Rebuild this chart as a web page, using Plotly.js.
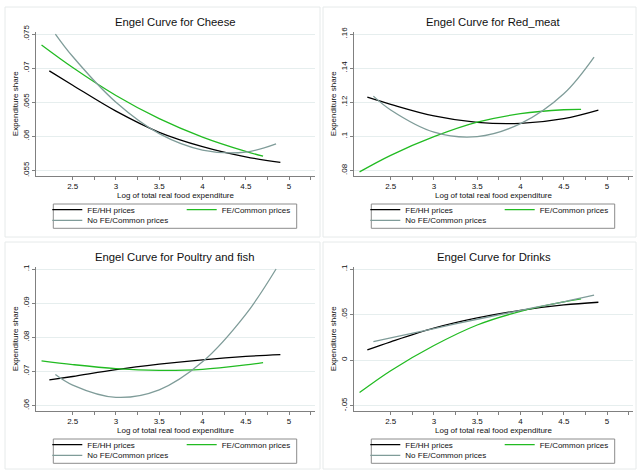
<!DOCTYPE html>
<html>
<head>
<meta charset="utf-8">
<script src="https://cdn.plot.ly/plotly-3.0.1.min.js"></script>
<style>html,body{margin:0;padding:0;background:#fff;}#chart{width:637px;height:470px;}</style>
</head>
<body>
<div id="chart"></div>
<script>
// ---------- data ----------
const seriesNames = ['FE/HH prices', 'FE/Common prices', 'No FE/Common prices'];
const panelTitles = ['Engel Curve for Cheese', 'Engel Curve for Red_meat',
                     'Engel Curve for Poultry and fish', 'Engel Curve for Drinks'];

const hhX     = [2.23, 2.5, 3, 3.5, 4, 4.5, 4.9];
const commonX = [2.14, 2.5, 3, 3.5, 4, 4.5, 4.7];
const noFeX   = [2.3, 2.5, 3, 3.5, 4, 4.5, 4.85];

const cheeseHH     = [0.0696, 0.0675, 0.0637, 0.0606, 0.0585, 0.0570, 0.0562];
const cheeseCommon = [0.0734, 0.0701, 0.0660, 0.0626, 0.0599, 0.0578, 0.0571];
const cheeseNoFe   = [0.0750, 0.0717, 0.0650, 0.0604, 0.0580, 0.0577, 0.0589];

const meatHH     = [0.1230, 0.1188, 0.1120, 0.1082, 0.1076, 0.1104, 0.1154];
const meatCommon = [0.0792, 0.0889, 0.0998, 0.1083, 0.1133, 0.1156, 0.1158];
const meatNoFe   = [0.1236, 0.1155, 0.1025, 0.0999, 0.1075, 0.1250, 0.1465];

const poultryHH     = [0.0675, 0.0685, 0.0705, 0.0721, 0.0734, 0.0744, 0.0749];
const poultryCommon = [0.0731, 0.0720, 0.0708, 0.0703, 0.0706, 0.0719, 0.0726];
const poultryNoFe   = [0.0691, 0.0660, 0.0624, 0.0646, 0.0728, 0.0867, 0.1000];

const drinksHH     = [0.0111, 0.0200, 0.0350, 0.0462, 0.0546, 0.0605, 0.0635];
const drinksCommon = [-0.0358, -0.0118, 0.0159, 0.0385, 0.0535, 0.0638, 0.0672];
const drinksNoFe   = [0.0203, 0.0243, 0.0345, 0.0448, 0.0546, 0.0640, 0.0712];

const xTickVals  = [2.5, 3, 3.5, 4, 4.5, 5];
const xTickText  = ['2.5', '3', '3.5', '4', '4.5', '5'];
const xMinorVals = [2.75, 3.25, 3.75, 4.25, 4.75, 5.25];

const cheeseTickVals = [0.055, 0.06, 0.065, 0.07, 0.075];
const cheeseTickText = ['.055', '.06', '.065', '.07', '.075'];
const meatTickVals   = [0.08, 0.1, 0.12, 0.14, 0.16];
const meatTickText   = ['.08', '.1', '.12', '.14', '.16'];
const poultryTickVals = [0.06, 0.07, 0.08, 0.09, 0.1];
const poultryTickText = ['.06', '.07', '.08', '.09', '.1'];
const drinksTickVals = [-0.05, 0, 0.05, 0.1];
const drinksTickText = ['-.05', '0', '.05', '.1'];

const xTitle = 'Log of total real food expenditure';
const yTitle = 'Expenditure share';

// ---------- layout helpers ----------
const W = 637, H = 470;
const px = v => v / W;
const py = v => 1 - v / H;
const colors = ['#000000', '#22bb22', '#7f9c99'];
const fontFam = '"Liberation Sans", Arial, Helvetica, sans-serif';
const axisCol = '#808080';
const gridCol = '#e6eeee';

const panels = [
  {ys: [cheeseHH, cheeseCommon, cheeseNoFe], tv: cheeseTickVals, tt: cheeseTickText, col: 0, row: 0},
  {ys: [meatHH, meatCommon, meatNoFe], tv: meatTickVals, tt: meatTickText, col: 1, row: 0},
  {ys: [poultryHH, poultryCommon, poultryNoFe], tv: poultryTickVals, tt: poultryTickText, col: 0, row: 1},
  {ys: [drinksHH, drinksCommon, drinksNoFe], tv: drinksTickVals, tt: drinksTickText, col: 1, row: 1}
];
const xsets = [hhX, commonX, noFeX];

const traces = [];
const layout = {
  width: W, height: H,
  margin: {l: 0, r: 0, t: 0, b: 0},
  paper_bgcolor: '#ffffff', plot_bgcolor: '#ffffff',
  font: {family: fontFam, size: 8, color: '#111111'},
  showlegend: true,
  annotations: [], shapes: []
};

let legendIdx = 0;
panels.forEach((p, i) => {
  const n = i + 1;
  const sfx = n === 1 ? '' : String(n);
  const offX = p.col * 318, offY = p.row * 235;
  const lo = p.tv[0], hi = p.tv[p.tv.length - 1], span = hi - lo;
  const yRange = [lo - 0.038 * span, hi + 0.017 * span];

  layout['xaxis' + sfx] = {
    domain: [px(36 + offX), px(315 + offX)],
    anchor: 'y' + sfx,
    range: [2.076, 5.3],
    tickmode: 'array', tickvals: xTickVals, ticktext: xTickText,
    ticks: 'outside', ticklen: 3, tickcolor: axisCol, tickwidth: 1,
    minor: {tickmode: 'array', tickvals: xMinorVals, ticks: 'outside', ticklen: 3, tickcolor: axisCol, showgrid: false},
    showline: true, linecolor: axisCol, linewidth: 1,
    showgrid: false, zeroline: false,
    tickfont: {size: 8, color: '#111111'},
    title: {text: xTitle, font: {size: 8, color: '#111111'}, standoff: 0},
    fixedrange: true
  };
  layout['yaxis' + sfx] = {
    domain: [py(175.7 + offY), py(31.7 + offY)],
    anchor: 'x' + sfx,
    range: yRange,
    tickmode: 'array', tickvals: p.tv, ticktext: p.tt,
    tickangle: -90,
    ticks: 'outside', ticklen: 3, tickcolor: axisCol, tickwidth: 1,
    showline: true, linecolor: axisCol, linewidth: 1,
    showgrid: true, gridcolor: gridCol, gridwidth: 1, zeroline: false,
    tickfont: {size: 8, color: '#111111'},
    title: {text: yTitle, font: {size: 8, color: '#111111'}, standoff: 1},
    fixedrange: true
  };

  p.ys.forEach((yv, k) => {
    legendIdx += 1;
    const lname = legendIdx === 1 ? 'legend' : 'legend' + legendIdx;
    traces.push({
      type: 'scatter', mode: 'lines',
      x: xsets[k], y: yv, name: seriesNames[k],
      xaxis: 'x' + sfx, yaxis: 'y' + sfx,
      line: {color: colors[k], width: 1.3, shape: 'spline', smoothing: 1},
      legend: lname, showlegend: true, hoverinfo: 'x+y+name'
    });
    const lx = (k === 1 ? 181.7 : 47.3) + offX;
    const ly = (k === 2 ? 220.3 : 209.7) + offY;
    layout[lname] = {
      x: px(lx), y: py(ly), xanchor: 'left', yanchor: 'middle',
      xref: 'paper', yref: 'paper',
      bgcolor: 'rgba(0,0,0,0)', borderwidth: 0,
      font: {size: 8, color: '#111111', family: fontFam},
      orientation: 'v', itemwidth: 30
    };
  });

  layout.shapes.push({
    type: 'rect', xref: 'paper', yref: 'paper', layer: 'below',
    x0: px(53.3 + offX), x1: px(296.7 + offX), y0: py(228.3 + offY), y1: py(204 + offY),
    line: {color: '#8c8c8c', width: 1}, fillcolor: '#ffffff'
  });
  layout.shapes.push({
    type: 'rect', xref: 'paper', yref: 'paper', layer: 'below',
    x0: px(p.col ? 323 : 5), x1: px(p.col ? 636 : 320),
    y0: py(p.row ? 469 : 237), y1: py(p.row ? 242 : 7),
    line: {color: '#e6eaea', width: 1}, fillcolor: 'rgba(0,0,0,0)'
  });
  layout.annotations.push({
    text: panelTitles[i], xref: 'paper', yref: 'paper',
    x: px(175.5 + offX), y: py(22 + offY), xanchor: 'center', yanchor: 'middle',
    showarrow: false, font: {size: 11.3, color: '#111111', family: fontFam}
  });
});

Plotly.newPlot('chart', traces, layout, {displayModeBar: false, staticPlot: true});
</script>
</body>
</html>
